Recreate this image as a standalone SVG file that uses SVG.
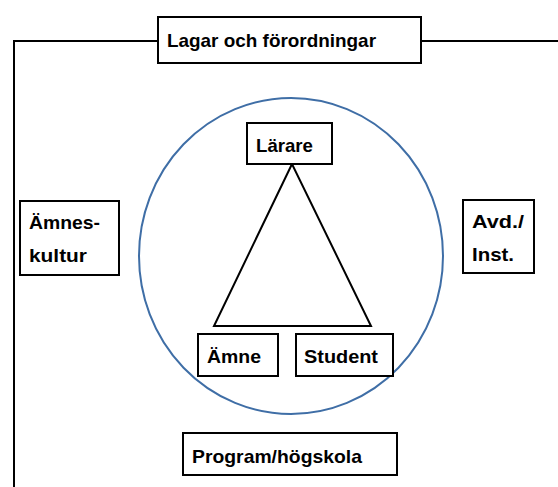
<svg xmlns="http://www.w3.org/2000/svg" width="558" height="487" viewBox="0 0 558 487">
<style>
.box{fill:#fff;stroke:#000;stroke-width:2}
.ln{fill:none;stroke:#000;stroke-width:2}
text{font-family:"Liberation Sans",Arial,sans-serif;font-weight:bold;font-size:19px;fill:#000}
</style>
<rect width="558" height="487" fill="#fff"/>
<g id="connectors">
<polyline class="ln" points="158,41 14,41 14,487"/>
<line class="ln" x1="421" y1="41" x2="558" y2="41"/>
<ellipse cx="291" cy="256" rx="152" ry="158" fill="none" stroke="#3f6ea6" stroke-width="2"/>
<polygon class="ln" points="292,164 214,326 371,326"/>
</g>
<g id="lagar"><rect class="box" x="158" y="17" width="263" height="46"/><text x="167" y="47" textLength="209" lengthAdjust="spacingAndGlyphs">Lagar och förordningar</text></g>
<g id="larare"><rect class="box" x="247" y="123" width="85" height="41"/><text x="256" y="152" textLength="57" lengthAdjust="spacingAndGlyphs">Lärare</text></g>
<g id="amne"><rect class="box" x="198" y="334" width="80" height="42"/><text x="207" y="363" textLength="54" lengthAdjust="spacingAndGlyphs">Ämne</text></g>
<g id="student"><rect class="box" x="296" y="334" width="97" height="42"/><text x="304" y="363" textLength="74" lengthAdjust="spacingAndGlyphs">Student</text></g>
<g id="amneskultur"><rect class="box" x="20" y="201" width="99" height="74"/><text x="29" y="229" textLength="71" lengthAdjust="spacingAndGlyphs">Ämnes-</text><text x="29" y="262" textLength="58" lengthAdjust="spacingAndGlyphs">kultur</text></g>
<g id="avd"><rect class="box" x="463" y="200" width="71" height="73"/><text x="472" y="228" textLength="52" lengthAdjust="spacingAndGlyphs">Avd./</text><text x="472" y="261" textLength="42" lengthAdjust="spacingAndGlyphs">Inst.</text></g>
<g id="program"><rect class="box" x="183" y="433" width="214" height="42"/><text x="192" y="463" textLength="170" lengthAdjust="spacingAndGlyphs">Program/högskola</text></g>
</svg>
